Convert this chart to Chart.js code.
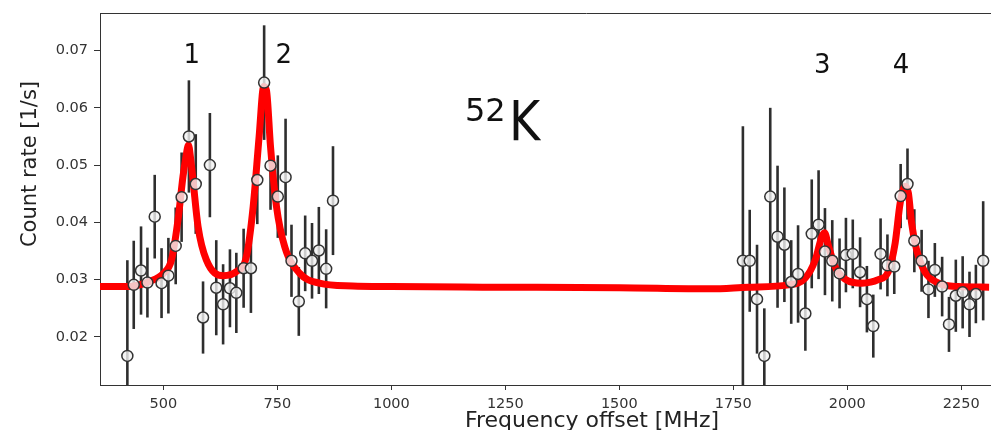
<!DOCTYPE html>
<html><head><meta charset="utf-8">
<script src="https://cdn.jsdelivr.net/npm/chart.js@4/dist/chart.umd.min.js"></script>
<style>html,body{margin:0;padding:0;background:#fff;overflow:hidden}#wrap{width:991px;height:430px;position:relative;overflow:hidden}</style>
</head><body><div id="wrap"><canvas id="c" width="1080" height="430"></canvas></div>
<script>
// measured data points
const freq = [421,435,451,465,481,496,511,527,540,556,571,587,602,616,631,646,660,676,692,706,721,735,751,768,781,797,811,826,841,857,872,
  1771,1786,1802,1818,1831,1847,1862,1877,1892,1908,1922,1937,1951,1967,1983,1997,2012,2028,2043,2057,2073,2088,2103,2117,2132,2147,2163,2178,2192,2208,2223,2238,2253,2268,2282,2298];
const rate = [0.0167,0.0291,0.0316,0.0295,0.0410,0.0294,0.0307,0.0359,0.0444,0.0550,0.0467,0.0234,0.0500,0.0286,0.0257,0.0285,0.0277,0.0320,0.0320,0.0474,0.0644,0.0499,0.0445,0.0479,0.0333,0.0262,0.0346,0.0333,0.0351,0.0319,0.0438,
  0.0333,0.0333,0.0266,0.0167,0.0445,0.0375,0.0361,0.0296,0.0310,0.0241,0.0380,0.0396,0.0349,0.0333,0.0311,0.0343,0.0345,0.0313,0.0266,0.0219,0.0345,0.0325,0.0323,0.0446,0.0467,0.0368,0.0333,0.0283,0.0317,0.0288,0.0222,0.0272,0.0278,0.0257,0.0275,0.0333];
const err = [0.0167,0.0077,0.0077,0.0061,0.0073,0.0061,0.0066,0.0067,0.0078,0.0098,0.0087,0.0063,0.0091,0.0083,0.0070,0.0068,0.0070,0.0069,0.0078,0.0077,0.0100,0.0077,0.0072,0.0102,0.0063,0.0060,0.0066,0.0066,0.0076,0.0069,0.0095,
  0.0235,0.0089,0.0095,0.0083,0.0155,0.0124,0.0100,0.0073,0.0085,0.0065,0.0095,0.0095,0.0076,0.0071,0.0061,0.0065,0.0060,0.0061,0.0058,0.0055,0.0062,0.0054,0.0048,0.0056,0.0062,0.0055,0.0054,0.0050,0.0047,0.0052,0.0048,0.0063,0.0063,0.0057,0.0051,0.0104];
// fitted curve
const fitFreq = [361,412,434,470,500,518,532,543,549,555,560,565,576,594,631,660,682,697,710,720,726,735,748,766,799,842,915,1000,1200,1500,1700,1783,1871,1908,1930,1944,1950,1959,1973,1995,2032,2068,2090,2105,2116,2127,2134,2141,2152,2170,2200,2243,2311];
const fitRate = [0.0288,0.0288,0.0289,0.0297,0.0311,0.0335,0.0404,0.0480,0.0512,0.0535,0.0510,0.0474,0.0393,0.0335,0.0307,0.0314,0.0340,0.0428,0.0550,0.0637,0.0631,0.0532,0.0428,0.0358,0.0311,0.0294,0.0289,0.0288,0.0287,0.0286,0.0284,0.0287,0.0291,0.0303,0.0335,0.0375,0.0382,0.0358,0.0323,0.0301,0.0294,0.0300,0.0314,0.0364,0.0434,0.0463,0.0451,0.0399,0.0352,0.0314,0.0294,0.0288,0.0287];
const xTicks = [500,750,1000,1250,1500,1750,2000,2250];
const yTicks = [0.02,0.03,0.04,0.05,0.06,0.07];
const peakLabels = ['1','2','3','4'];
const peakLabelFreq = [562,764,1945,2118];
const peakLabelRate = [0.0690,0.0690,0.0673,0.0673];

const points = freq.map((f,i)=>({x:f,y:rate[i]}));
const fit = fitFreq.map((f,i)=>({x:f,y:fitRate[i]}));

const errorBars = {
  id:'errorBars',
  beforeDatasetsDraw(chart){
    const {ctx, chartArea:a, scales:{x,y}} = chart;
    ctx.save();
    ctx.beginPath(); ctx.rect(a.left,a.top,a.width,a.height); ctx.clip();
    ctx.strokeStyle='#2e2e2e'; ctx.lineWidth=2.6; ctx.lineCap='butt';
    freq.forEach((f,i)=>{
      const px = x.getPixelForValue(f);
      ctx.beginPath();
      ctx.moveTo(px, y.getPixelForValue(rate[i]-err[i]));
      ctx.lineTo(px, y.getPixelForValue(rate[i]+err[i]));
      ctx.stroke();
    });
    ctx.restore();
  }
};
const deco = {
  id:'deco',
  afterDraw(chart){
    const {ctx, chartArea:a, scales:{x,y}} = chart;
    ctx.save();
    ctx.strokeStyle='#333'; ctx.lineWidth=1;
    ctx.beginPath(); ctx.moveTo(a.left, a.top+0.5); ctx.lineTo(a.right, a.top+0.5); ctx.stroke();
    ctx.fillStyle='#111'; ctx.textAlign='center'; ctx.textBaseline='middle';
    ctx.font='26px "DejaVu Sans"';
    peakLabels.forEach((t,i)=>ctx.fillText(t, x.getPixelForValue(peakLabelFreq[i]), y.getPixelForValue(peakLabelRate[i])));
    ctx.textAlign='left'; ctx.textBaseline='alphabetic';
    ctx.font='32px "DejaVu Sans"';
    ctx.fillText('52', 465, 121);
    ctx.save();
    ctx.translate(509, 140); ctx.scale(0.85, 1);
    ctx.font='56px "DejaVu Sans"';
    ctx.fillText('K', 0, 0);
    ctx.restore();
    // axis titles
    ctx.fillStyle='#222';
    ctx.font='22px "DejaVu Sans"'; ctx.textAlign='center'; ctx.textBaseline='alphabetic';
    ctx.fillText('Frequency offset [MHz]', 592, 427);
    ctx.save();
    ctx.translate(36, 164); ctx.rotate(-Math.PI/2);
    ctx.font='21px "DejaVu Sans"';
    ctx.fillText('Count rate [1/s]', 0, 0);
    ctx.restore();
    ctx.restore();
  }
};

new Chart(document.getElementById('c'), {
  type:'scatter',
  data:{datasets:[
    {label:'data', data:points, order:1, showLine:false,
     pointRadius:5.5, pointHoverRadius:5.5, pointBackgroundColor:'rgba(242,242,242,0.8)',
     pointBorderColor:'#333', pointBorderWidth:1.5},
    {label:'fit', data:fit, order:2, showLine:true, borderColor:'#ff0000', borderWidth:7,
     pointRadius:0, cubicInterpolationMode:'monotone', fill:false}
  ]},
  options:{
    responsive:false, animation:false,
    layout:{padding:{top:13,right:0,left:0,bottom:0}},
    plugins:{legend:{display:false}, tooltip:{enabled:false}},
    scales:{
      x:{type:'linear', min:361, max:2495,
         afterFit(s){s.height=45; s.paddingRight=0; s.paddingLeft=0;},
         grid:{display:true, drawOnChartArea:false, tickLength:5, tickColor:'#333'},
         border:{color:'#333', width:1},
         afterBuildTicks(s){ s.ticks = xTicks.map(v=>({value:v})); },
         ticks:{autoSkip:false, maxRotation:0, color:'#333', font:{family:'DejaVu Sans', size:14.5}, padding:6,
                callback:(v)=>String(v)},
         title:{display:false}},
      y:{type:'linear', min:0.01162, max:0.07655,
         afterFit(s){s.width=100; s.paddingTop=0; s.paddingBottom=0;},
         grid:{display:true, drawOnChartArea:false, tickLength:6, tickColor:'#333'},
         border:{color:'#333', width:1},
         afterBuildTicks(s){ s.ticks = yTicks.map(v=>({value:v})); },
         ticks:{color:'#333', font:{family:'DejaVu Sans', size:14.5}, padding:6, callback:(v)=>v.toFixed(2)},
         title:{display:false}}
    }
  },
  plugins:[errorBars, deco]
});
</script></body></html>
